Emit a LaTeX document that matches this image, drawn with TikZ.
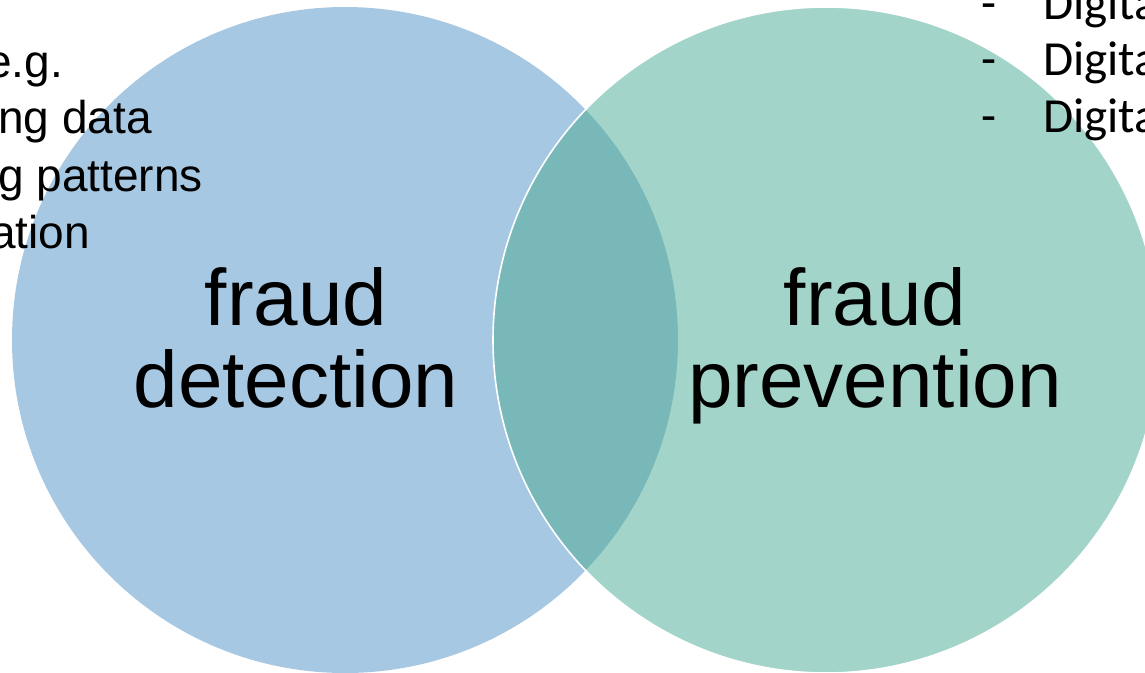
\documentclass[tikz,border=0pt]{standalone}
\usepackage{fontspec}
\setmainfont{Liberation Sans}
\newfontfamily\calib{Carlito}
\definecolor{detblue}{HTML}{A7C8E3}
\definecolor{prevgreen}{HTML}{A2D4C9}
\definecolor{overlap}{HTML}{78B8B9}
\tikzset{
  bigtext/.style={anchor=base, inner sep=0pt, font=\fontsize{80}{82}\selectfont},
  smalltext/.style={anchor=base east, inner sep=0pt, font=\fontsize{46}{57}\selectfont},
  listtext/.style={anchor=base west, inner sep=0pt, font=\calib\fontsize{49}{57}\selectfont},
}
\begin{document}
\begin{tikzpicture}[x=1pt,y=-1pt]
\useasboundingbox (0,0) rectangle (1145,672);
\clip (0,0) rectangle (1145,672);
\fill[white] (0,0) rectangle (1145,672);
% circles
\coordinate (cl) at (345,340);
\coordinate (cr) at (826,340);
\fill[detblue] (cl) circle[radius=333];
\fill[prevgreen] (cr) circle[radius=333];
\begin{scope}
  \clip (cr) circle[radius=333];
  \fill[overlap] (cl) circle[radius=333];
\end{scope}
\draw[white, line width=1.6pt] (cr) circle[radius=333];
% main labels
\node[bigtext] (f1) at (296,325) {fraud};
\node[bigtext] (d1) at (296,407) {detection};
\node[bigtext] (f2) at (875,325) {fraud};
\node[bigtext] (p2) at (875,407) {prevention};
% left list (clipped)
\node[smalltext] (l1) at (63,77) {e.g.};
\node[smalltext] (l2) at (152,133) {ng data};
\node[smalltext] (l3) at (203,191) {g patterns};
\node[smalltext] (l4) at (90,248) {ation};
% right list (clipped)
\node[listtext] (r1d) at (981,19) {-};
\node[listtext] (r1) at (1043,19) {Digita};
\node[listtext] (r2d) at (981,75) {-};
\node[listtext] (r2) at (1043,75) {Digita};
\node[listtext] (r3d) at (981,132) {-};
\node[listtext] (r3) at (1043,132) {Digita};
\end{tikzpicture}
\end{document}
